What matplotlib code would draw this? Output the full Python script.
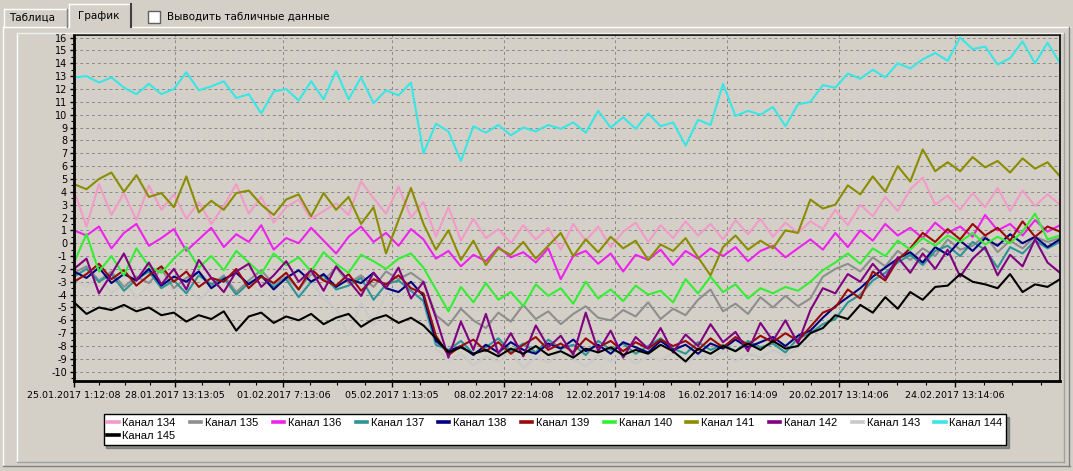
import matplotlib
matplotlib.use("Agg")
import matplotlib.pyplot as plt
from matplotlib.lines import Line2D
from matplotlib.patches import Rectangle
import pandas as pd

# ---------------- data ----------------
start = pd.Timestamp("2017-01-25 01:12:08")
end = pd.Timestamp("2017-02-28 04:48:00")
n_points = 80
times = pd.date_range(start, end, periods=n_points)

tick_times = ["2017-01-25 01:12:08", "2017-01-28 13:13:05", "2017-02-01 07:13:06",
              "2017-02-05 01:13:05", "2017-02-08 22:14:08", "2017-02-12 19:14:08",
              "2017-02-16 16:14:09", "2017-02-20 13:14:06", "2017-02-24 13:14:06"]
tick_labels = ["25.01.2017 1:12:08", "28.01.2017 13:13:05", "01.02.2017 7:13:06",
               "05.02.2017 1:13:05", "08.02.2017 22:14:08", "12.02.2017 19:14:08",
               "16.02.2017 16:14:09", "20.02.2017 13:14:06", "24.02.2017 13:14:06"]

channels = ["Канал 134", "Канал 135", "Канал 136", "Канал 137", "Канал 138", "Канал 139",
            "Канал 140", "Канал 141", "Канал 142", "Канал 143", "Канал 144", "Канал 145"]
colors = ["#F29BC9", "#8E8E8E", "#EE22EE", "#2E9494", "#000080", "#990A0A",
          "#33EE33", "#8C8C00", "#800080", "#C9C9C9", "#38E6E6", "#000000"]

k134 = [4.1, 1.3, 4.6, 2.2, 3.9, 1.8, 4.5, 2.6, 3.8, 1.9, 3.2, 1.5, 2.9, 4.6, 2.3, 3.6, 1.6, 2.8, 3.4, 1.9,
        2.5, 3.1, 2.2, 4.8, 3.5, 2.3, 4.4, 2.0, 3.2, 0.5, 2.8, 0.2, 1.9, 0.4, 1.1, 0.0, 1.4, 0.3, 1.2, -0.5,
        1.5, 0.2, 1.3, -0.3, 0.9, 1.6, 0.1, 1.4, 0.4, 1.7, 0.6, 1.5, 0.3, 1.8, 0.7, 1.9, 0.5, 1.6, 0.8, 1.7,
        1.1, 2.6, 1.4, 3.0, 2.1, 3.6, 2.5, 4.2, 5.1, 3.0, 3.7, 2.6, 3.9, 2.8, 4.3, 2.5, 4.1, 2.9, 3.8, 3.0]
k135 = [-2.3, -1.8, -2.9, -2.2, -3.4, -2.6, -3.1, -2.0, -3.5, -2.7, -2.2, -3.3, -2.5, -3.8, -2.9, -2.1, -3.2, -2.6, -3.6, -2.4,
        -2.9, -1.9, -3.1, -2.5, -3.4, -2.2, -2.8, -2.3, -3.0, -5.6, -6.4, -5.1, -6.0, -6.6, -5.4, -6.1, -4.8, -5.9, -5.3, -6.3,
        -5.5, -4.9, -5.8, -6.0, -5.2, -5.7, -4.6, -5.9, -5.1, -5.6, -4.4, -3.6, -5.3, -4.7, -5.5, -4.2, -5.0, -4.1, -4.9, -4.3,
        -2.6, -2.0, -1.6, -2.2, -1.1, -1.8, -0.6, -1.3, -0.4, -1.0, 0.3, -0.5, -0.2, 0.6, -0.7, 0.2, -0.4, 0.5, 0.1, 0.4]
k136 = [1.0, 0.6, 1.3, -0.4, 0.8, 1.5, -0.2, 0.4, 1.1, -0.6, 0.3, 1.2, -0.3, 0.7, 0.1, 1.4, -0.5, 0.4, 0.0, 1.2,
        0.2, -0.8, 0.5, 1.3, 0.1, 0.8, -0.2, 1.1, 0.3, -1.2, -0.6, -1.8, -0.9, -1.4, -0.3, -1.1, -0.7, -1.5, -0.4, -2.8,
        -1.0, -0.6, -1.6, -0.8, -2.2, -0.9, -1.3, -0.5, -1.7, -0.6, -1.2, -0.4, -1.0, -0.3, -1.4, -0.6, -0.2, -1.1, -0.4, 0.3,
        -0.5, 0.8, -0.3, 1.0, 0.2, 1.5, 0.6, 1.2, 0.4, 1.6, 0.8, 1.3, 0.5, 2.2, 1.0, 1.5, 0.6, 1.8, 0.9, 1.4]
k137 = [-2.6, -2.0, -3.0, -2.4, -3.7, -2.8, -2.2, -3.5, -2.9, -3.9, -2.5, -3.2, -2.7, -4.0, -3.1, -2.6, -3.4, -2.8, -4.2, -3.0,
        -2.5, -3.6, -3.3, -2.7, -4.4, -3.2, -2.9, -3.7, -4.5, -7.9, -8.3, -7.6, -8.6, -8.1, -7.4, -8.4, -7.8, -8.5, -7.5, -8.2,
        -7.9, -8.7, -7.6, -8.3, -7.8, -8.6, -8.0, -7.4, -8.2, -8.6, -7.7, -8.3, -7.9, -8.4, -7.6, -8.1, -7.8, -8.5, -7.4, -7.0,
        -6.3, -5.9, -4.6, -4.0, -2.9, -2.3, -1.5, -0.9, -1.7, -0.6, -0.2, -1.0, 0.1, -0.5, -1.9, -0.3, -0.8, 0.2, -0.4, 0.1]
k138 = [-2.2, -2.7, -1.9, -3.1, -2.4, -2.9, -2.0, -3.3, -2.6, -3.0, -2.2, -3.5, -2.8, -2.3, -3.2, -2.5, -3.6, -2.7, -2.1, -3.0,
        -2.4, -3.4, -2.8, -3.1, -2.3, -3.5, -3.8, -3.0, -4.1, -7.6, -8.4, -8.0, -8.7, -7.9, -8.5, -7.7, -8.3, -8.6, -7.8, -8.2,
        -7.5, -8.4, -7.9, -8.6, -7.7, -8.1, -8.5, -7.6, -8.3, -7.9, -8.6, -7.8, -8.2, -7.5, -8.1, -7.7, -7.3, -8.0, -7.2, -6.8,
        -5.8, -4.9, -4.2, -3.5, -2.6, -1.9, -1.2, -0.7, -1.5, -0.3, -0.9, 0.2, -0.6, 0.4, -0.2, 0.7, 0.0, 0.5, -0.3, 0.3]
k139 = [-3.0, -2.4, -1.6, -2.8, -2.1, -3.3, -2.5, -1.8, -3.0, -2.2, -3.4, -2.7, -3.0, -2.0, -3.5, -2.6, -3.1, -2.3, -3.6, -2.0,
        -2.9, -3.3, -2.4, -3.7, -2.8, -3.2, -2.5, -3.5, -3.9, -7.2, -8.7, -8.0, -7.5, -8.4, -7.7, -8.6, -7.9, -7.3, -8.3, -7.8,
        -8.5, -7.4, -8.1, -7.6, -8.4, -7.7, -8.2, -7.5, -8.0, -7.6, -8.3, -7.4, -8.1, -7.3, -7.9, -7.2, -7.7, -7.0, -7.6, -6.5,
        -5.4, -5.0, -3.6, -4.3, -2.2, -2.9, -1.3, -0.4, 0.8, 0.1, 1.1, 0.3, 1.5, 0.6, 1.2, 0.2, 1.7, 0.5, 1.3, 0.9]
k140 = [-1.5, 0.7, -2.2, -1.0, -2.5, -0.4, -1.8, -2.3, -1.2, -0.3, -1.9, -1.0, -2.1, -0.6, -1.5, -2.4, -0.8, -1.7, -1.1, -2.2,
        -0.7, -1.6, -2.3, -0.9, -1.4, -2.0, -1.2, -0.8, -1.9, -3.6, -5.3, -3.4, -4.6, -3.1, -4.4, -3.8, -4.9, -3.2, -4.1, -3.5,
        -4.7, -3.0, -4.3, -3.6, -4.5, -3.3, -4.0, -3.7, -4.6, -2.8, -3.9, -2.6, -3.8, -3.2, -4.3, -3.5, -3.9, -3.4, -3.7, -3.0,
        -2.1, -1.5, -0.8, -1.6, -0.4, -1.0, 0.2, -0.5, 0.4, -0.2, 0.6, 0.1, 0.8, -0.1, 0.5, 0.0, 0.9, 2.3, 0.3, 0.6]
k141 = [4.6, 4.2, 5.0, 5.5, 4.0, 5.3, 3.6, 3.9, 2.8, 5.2, 2.4, 3.3, 2.6, 3.9, 4.1, 3.0, 2.2, 3.4, 3.8, 2.1,
        3.9, 2.6, 3.6, 1.5, 2.8, -0.8, 1.8, 4.3, 1.5, -0.5, 1.0, -1.3, 0.2, -1.7, -0.4, -0.9, 0.1, -1.2, -0.2, 0.8,
        -1.0, 0.3, -0.7, 0.5, -0.4, 0.2, -1.3, -0.1, -0.6, 0.4, -1.1, -2.5, -0.3, 0.6, -0.5, 0.2, -0.4, 1.0, 0.8, 3.4,
        2.7, 3.0, 4.5, 3.8, 5.2, 4.0, 6.0, 4.8, 7.3, 5.6, 6.3, 5.6, 6.7, 5.9, 6.4, 5.5, 6.6, 5.8, 6.3, 5.2]
k142 = [-2.0, -1.2, -3.9, -2.4, -0.8, -2.9, -1.5, -3.2, -2.0, -3.6, -1.3, -2.7, -3.8, -2.2, -1.6, -3.4, -2.5, -1.4, -3.0, -2.1,
        -3.7, -1.8, -2.9, -4.1, -2.3, -3.5, -1.9, -4.3, -3.0, -5.8, -8.9, -6.1, -8.3, -5.5, -8.6, -7.0, -8.8, -6.4, -8.1, -7.2,
        -8.7, -5.4, -8.4, -6.8, -8.9, -7.3, -8.2, -6.6, -8.5, -7.1, -8.0, -6.3, -7.7, -6.9, -8.4, -6.2, -7.6, -6.0, -7.8, -5.2,
        -3.5, -3.9, -2.4, -3.0, -1.6, -2.7, -1.1, -2.3, -0.8, -2.0, -0.5, -2.6, -1.2, -0.3, -2.5, -0.9, -1.8, 0.3, -1.5, -2.3]
k143 = [-2.8, -3.4, -2.5, -3.9, -3.0, -4.2, -3.3, -2.7, -3.8, -3.1, -4.4, -3.5, -2.9, -4.0, -3.2, -3.7, -4.5, -3.4, -3.9, -3.0,
        -4.3, -5.1, -7.2, -4.6, -6.4, -3.8, -4.2, -3.6, -4.8, -8.2, -9.1, -8.6, -9.5, -8.8, -9.2, -8.5, -9.7, -8.9, -9.3, -8.4,
        -9.0, -9.6, -8.7, -9.2, -8.6, -9.4, -8.8, -9.1, -8.5, -9.3, -8.7, -9.0, -8.4, -9.2, -8.6, -8.9, -8.3, -8.8, -8.1, -7.6,
        -6.8, -5.5, -4.9, -3.8, -3.2, -2.5, -1.8, -1.3, -2.0, -0.9, -1.4, -0.6, -1.1, -0.4, -1.0, -0.5, -1.3, -0.2, -0.8, -1.0]
k144 = [12.9, 13.0, 12.5, 12.9, 12.1, 11.6, 12.4, 11.6, 12.0, 13.3, 11.9, 12.2, 12.6, 11.3, 11.6, 10.1, 11.8, 12.0, 11.1, 12.6,
        11.2, 13.4, 11.2, 12.9, 10.9, 11.9, 11.5, 12.5, 7.0, 9.3, 8.7, 6.4, 9.1, 8.6, 9.2, 8.4, 9.0, 8.7, 9.2, 8.9,
        9.4, 8.6, 10.3, 9.0, 9.8, 8.9, 10.1, 9.1, 9.4, 7.6, 9.6, 9.2, 12.4, 9.9, 10.3, 10.0, 10.6, 9.1, 10.8, 11.0,
        12.3, 12.1, 13.2, 12.8, 13.5, 12.9, 14.0, 13.6, 14.3, 14.8, 14.2, 16.0, 15.1, 15.3, 13.9, 14.4, 15.7, 14.0, 15.6, 14.0]
k145 = [-4.6, -5.5, -5.0, -5.2, -4.8, -5.3, -5.0, -5.6, -5.4, -6.1, -5.6, -5.9, -5.3, -6.8, -5.7, -5.4, -6.2, -5.7, -6.0, -5.5,
        -6.3, -5.8, -5.5, -6.5, -5.9, -5.6, -6.2, -5.8, -6.4, -7.4, -8.5, -8.1, -8.6, -8.3, -8.8, -8.2, -8.6, -8.0, -8.7, -8.4,
        -8.9, -8.2, -8.5, -8.1, -8.7, -8.3, -8.6, -7.9, -8.4, -9.2, -8.2, -8.6, -8.0, -8.4, -7.8, -8.3, -7.6, -8.2, -8.0, -7.0,
        -6.6, -5.6, -5.9, -4.8, -5.4, -4.2, -5.1, -3.8, -4.4, -3.4, -3.3, -2.4, -3.0, -3.2, -3.5, -2.4, -3.8, -3.2, -3.4, -2.8]

series = [k134, k135, k136, k137, k138, k139, k140, k141, k142, k143, k144, k145]
y_ticks = list(range(-10, 17))

# ---------------- figure ----------------
W, H = 1073, 471
BG = "#D4D0C8"
fig = plt.figure(figsize=(W / 100, H / 100), dpi=100, facecolor=BG)


def fx(x):
    return x / W


def fy(y):
    return 1 - y / H


def hline(x0, x1, y, color, lw=1.0):
    fig.add_artist(Line2D([fx(x0), fx(x1)], [fy(y), fy(y)], color=color, lw=lw,
                          transform=fig.transFigure))


def vline(x, y0, y1, color, lw=1.0):
    fig.add_artist(Line2D([fx(x), fx(x)], [fy(y0), fy(y1)], color=color, lw=lw,
                          transform=fig.transFigure))


# tab page frame
hline(3, 68, 27, "white")
hline(132, 1070, 27, "white")
vline(3, 27, 466, "white")
hline(3, 1070, 466, "#808080")
vline(1069, 27, 466, "#808080")
# inner panel frame
vline(17, 33, 462, "white")
hline(17, 1064, 33, "#F0EFEA")
hline(17, 1064, 462, "#A0A0A0")
vline(1064, 33, 462, "#A0A0A0")

# tabs
vline(4, 9, 27, "white")
hline(4, 67, 9, "white")
vline(67, 9, 27, "#808080")
vline(69, 4, 27, "white")
hline(69, 131, 4, "white")
vline(131, 4, 27, "#404040", lw=1.5)
fig.text(fx(9), fy(18), "Таблица", fontsize=7.5, va="center", ha="left",
         family="DejaVu Sans")
fig.text(fx(78), fy(16), "График", fontsize=7.5, va="center", ha="left",
         family="DejaVu Sans")
fig.add_artist(Rectangle((fx(148), fy(23)), fx(12), 12 / H, facecolor="white",
                         edgecolor="#606060", lw=1.0, transform=fig.transFigure))
fig.text(fx(167), fy(17), "Выводить табличные данные", fontsize=7.5, va="center",
         ha="left", family="DejaVu Sans")

# axes
ax = fig.add_axes([fx(74), fy(381), (1060 - 74) / W, (381 - 35) / H])
ax.set_facecolor(BG)

for vals, name, col in zip(series, channels, colors):
    z = 1 if name == "Канал 143" else 2
    ax.plot(times, vals, color=col, lw=1.5, label=name, zorder=z)

ax.set_xlim(start, end)
ax.set_ylim(-10.72, 16.2)

major = pd.to_datetime(tick_times)
ax.set_xticks(major)
ax.set_xticklabels(tick_labels)
minor = []
for a, b in zip(major[:-1], major[1:]):
    step = (b - a) / 4
    minor += [a + step * j for j in range(1, 4)]
for j in range(1, 4):
    minor.append(major[-1] + pd.Timedelta(days=j))
ax.set_xticks(minor, minor=True)

ax.set_yticks(y_ticks)
ax.set_yticklabels([str(v) for v in y_ticks])
ax.set_yticks([v / 2 for v in range(-21, 33)], minor=True)

ax.tick_params(axis="x", which="major", length=4, width=1, labelsize=6.8, pad=3,
               direction="out")
ax.tick_params(axis="x", which="minor", length=3, width=0.8, direction="out")
ax.tick_params(axis="y", which="major", length=3, width=1, labelsize=7, pad=2,
               direction="out")
ax.tick_params(axis="y", which="minor", length=2, width=0.8, direction="out")

ax.grid(True, which="major", color="#8A8A8A", linestyle=(0, (3, 3)), lw=0.7)
ax.set_axisbelow(True)
for s in ["left", "bottom"]:
    ax.spines[s].set_linewidth(2.0)
for s in ["top", "right"]:
    ax.spines[s].set_linewidth(1.2)
for s in ax.spines.values():
    s.set_color("black")

# legend (row-major layout: 134..144 in first row, 145 in second)
handles = [Line2D([], [], color=c, lw=2.6) for c in colors]
order = [0, 11] + list(range(1, 11))
leg = fig.legend([handles[i] for i in order], [channels[i] for i in order],
                 ncol=11, loc="center", bbox_to_anchor=(fx(555), fy(429.5)),
                 handlelength=1.0, handletextpad=0.35,
                 columnspacing=1.3, labelspacing=0.25, borderpad=0.35,
                 frameon=True, fancybox=False, shadow=True,
                 prop={"family": "Liberation Sans", "size": 8})
leg.get_frame().set_edgecolor("black")
leg.get_frame().set_linewidth(1.0)
leg.get_frame().set_facecolor("white")

fig.savefig("out.png", dpi=100, facecolor=BG)
